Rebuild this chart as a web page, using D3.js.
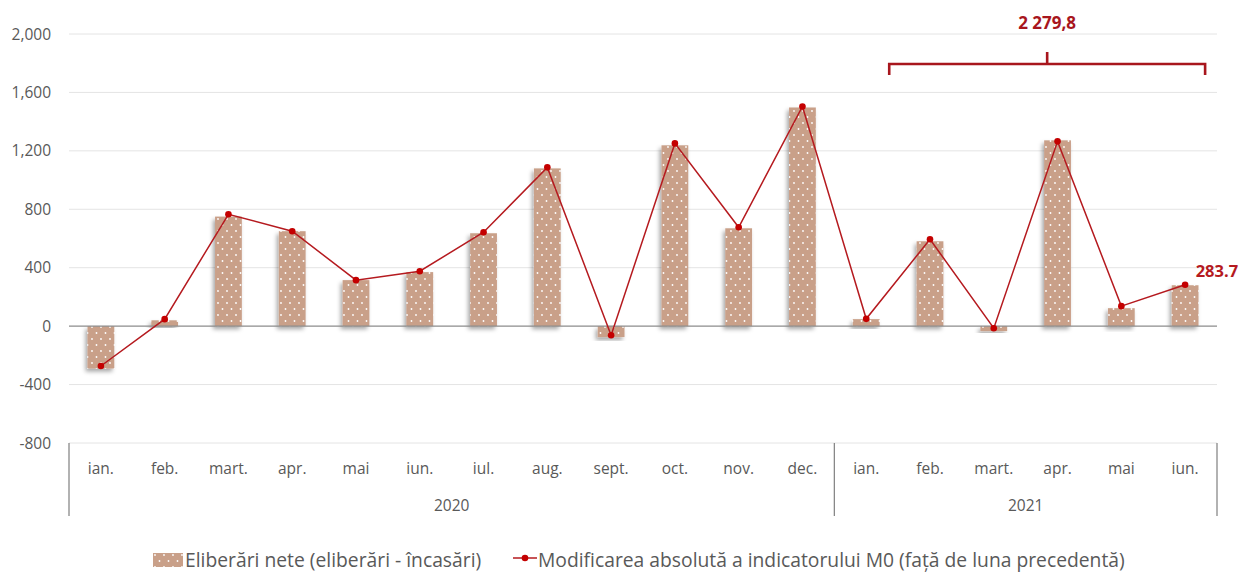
<!DOCTYPE html>
<html>
<head>
<meta charset="utf-8">
<script src="https://cdn.jsdelivr.net/npm/d3@7"></script>
<style>
  body { margin: 0; background: #fff; }
  svg { display: block; font-family: "Open Sans", "Lato", sans-serif; }
</style>
</head>
<body>
<div id="chart-container"></div>
<script>
const months = ["ian.", "feb.", "mart.", "apr.", "mai", "iun.", "iul.", "aug.", "sept.", "oct.", "nov.", "dec.",
  "ian.", "feb.", "mart.", "apr.", "mai", "iun."];
const years = [{ label: "2020", start: 0, end: 12 }, { label: "2021", start: 12, end: 18 }];
const netIssues = [-290, 40, 750, 650, 315, 370, 636, 1080, -75, 1238, 670, 1497, 48, 581, -34, 1272, 123, 280];
const m0Change = [-273, 48, 766, 650, 315, 376, 643, 1087, -62, 1251, 677, 1504, 50, 595, -14, 1265, 137, 283.7];
const yTicks = [-800, -400, 0, 400, 800, 1200, 1600, 2000];
const bracketLabel = "2 279,8";
const lastLabel = "283.7";
const legendLabels = ["Eliberări nete (eliberări - încasări)", "Modificarea absolută a indicatorului M0 (față de luna precedentă)"];

const W = 1242, H = 572;
const margin = { top: 34, left: 69, right: 25 };
const plotRight = W - margin.right;
const yBottom = 443;

const barColor = "#c9a089";
const lineColor = "#b51a1f";
const textColor = "#595959";

const x = d3.scaleBand().domain(d3.range(months.length)).range([margin.left, plotRight]).paddingInner(0.58).paddingOuter(0.29);
const xStep = d3.scaleLinear().domain([0, months.length]).range([margin.left, plotRight]);
const y = d3.scaleLinear().domain([-800, 2000]).range([yBottom, margin.top]);
const cx = i => xStep(i + 0.5);

const svg = d3.select("#chart-container").append("svg").attr("width", W).attr("height", H);
const defs = svg.append("defs");

const pat = defs.append("pattern").attr("id", "dots").attr("patternUnits", "userSpaceOnUse")
  .attr("width", 9).attr("height", 12);
pat.append("rect").attr("width", 9).attr("height", 12).attr("fill", barColor);
pat.append("circle").attr("cx", 2).attr("cy", 3).attr("r", 0.9).attr("fill", "#fff");
pat.append("circle").attr("cx", 6.5).attr("cy", 9).attr("r", 0.9).attr("fill", "#fff");

const shadow = defs.append("filter").attr("id", "shadow").attr("x", "-30%").attr("y", "-30%").attr("width", "160%").attr("height", "160%");
shadow.append("feDropShadow").attr("dx", -2).attr("dy", 3).attr("stdDeviation", 2)
  .attr("flood-color", "#000").attr("flood-opacity", 0.35);

// gridlines + y labels
svg.append("g").selectAll("line").data(yTicks.filter(d => d !== 0)).join("line")
  .attr("x1", margin.left).attr("x2", plotRight)
  .attr("y1", d => y(d)).attr("y2", d => y(d))
  .attr("stroke", "#e4e4e4").attr("stroke-width", 1);

svg.append("g").selectAll("text").data(yTicks).join("text")
  .attr("x", 51).attr("y", d => y(d)).attr("dy", "0.36em")
  .attr("text-anchor", "end").attr("font-size", 15.5).attr("fill", textColor)
  .text(d => d3.format(",")(d).replace("\u2212", "-"));

// bars
svg.append("g").selectAll("rect").data(netIssues).join("rect")
  .attr("x", (d, i) => x(i)).attr("width", x.bandwidth())
  .attr("y", d => y(Math.max(0, d))).attr("height", d => Math.abs(y(d) - y(0)))
  .attr("fill", "url(#dots)").attr("filter", "url(#shadow)");

// zero line
svg.append("line").attr("x1", margin.left).attr("x2", plotRight)
  .attr("y1", y(0)).attr("y2", y(0)).attr("stroke", "#8c8c8c").attr("stroke-width", 1.2);

// line series
const line = d3.line().x((d, i) => cx(i)).y(d => y(d));
svg.append("path").datum(m0Change).attr("d", line)
  .attr("fill", "none").attr("stroke", lineColor).attr("stroke-width", 1.5);
svg.append("g").selectAll("circle").data(m0Change).join("circle")
  .attr("cx", (d, i) => cx(i)).attr("cy", d => y(d)).attr("r", 3.3).attr("fill", "#c40000");

svg.append("text").attr("x", cx(17) + 53).attr("y", y(m0Change[17]) - 8)
  .attr("text-anchor", "end").attr("font-size", 16.5).attr("font-weight", "bold").attr("fill", lineColor)
  .text(lastLabel);

// bracket over 2021
const bx0 = cx(12) + 23, bx1 = cx(17) + 20, by = 64, bmid = (bx0 + bx1) / 2;
svg.append("path")
  .attr("d", `M${bx0},${by + 11}V${by}H${bx1}V${by + 11}M${bmid},${by}V${by - 12}`)
  .attr("fill", "none").attr("stroke", "#a8161d").attr("stroke-width", 2.6);
svg.append("text").attr("x", bmid).attr("y", 29).attr("text-anchor", "middle")
  .attr("font-size", 17).attr("font-weight", "bold").attr("fill", "#a8161d").text(bracketLabel);

// category axis
const axisG = svg.append("g");
axisG.selectAll("text").data(months).join("text")
  .attr("x", (d, i) => cx(i)).attr("y", 474).attr("text-anchor", "middle")
  .attr("font-size", 15.5).attr("fill", textColor).text(d => d);
axisG.selectAll("line").data([0, 12, 18]).join("line")
  .attr("x1", d => xStep(d)).attr("x2", d => xStep(d))
  .attr("y1", yBottom).attr("y2", 516).attr("stroke", "#7f7f7f").attr("stroke-width", 1.2);
axisG.selectAll(".yr").data(years).join("text").attr("class", "yr")
  .attr("x", d => xStep((d.start + d.end) / 2)).attr("y", 511).attr("text-anchor", "middle")
  .attr("font-size", 15.5).attr("fill", textColor).text(d => d.label);

// legend
const lg = svg.append("g").attr("font-size", 19.3).attr("fill", textColor);
lg.append("rect").attr("x", 153).attr("y", 553).attr("width", 30).attr("height", 14).attr("fill", "url(#dots)");
lg.append("text").attr("x", 185).attr("y", 567).text(legendLabels[0]);
lg.append("line").attr("x1", 513).attr("x2", 537).attr("y1", 558).attr("y2", 558)
  .attr("stroke", lineColor).attr("stroke-width", 1.5);
lg.append("circle").attr("cx", 525).attr("cy", 558).attr("r", 3.3).attr("fill", "#c40000");
lg.append("text").attr("x", 538).attr("y", 567).text(legendLabels[1]);
</script>
</body>
</html>
